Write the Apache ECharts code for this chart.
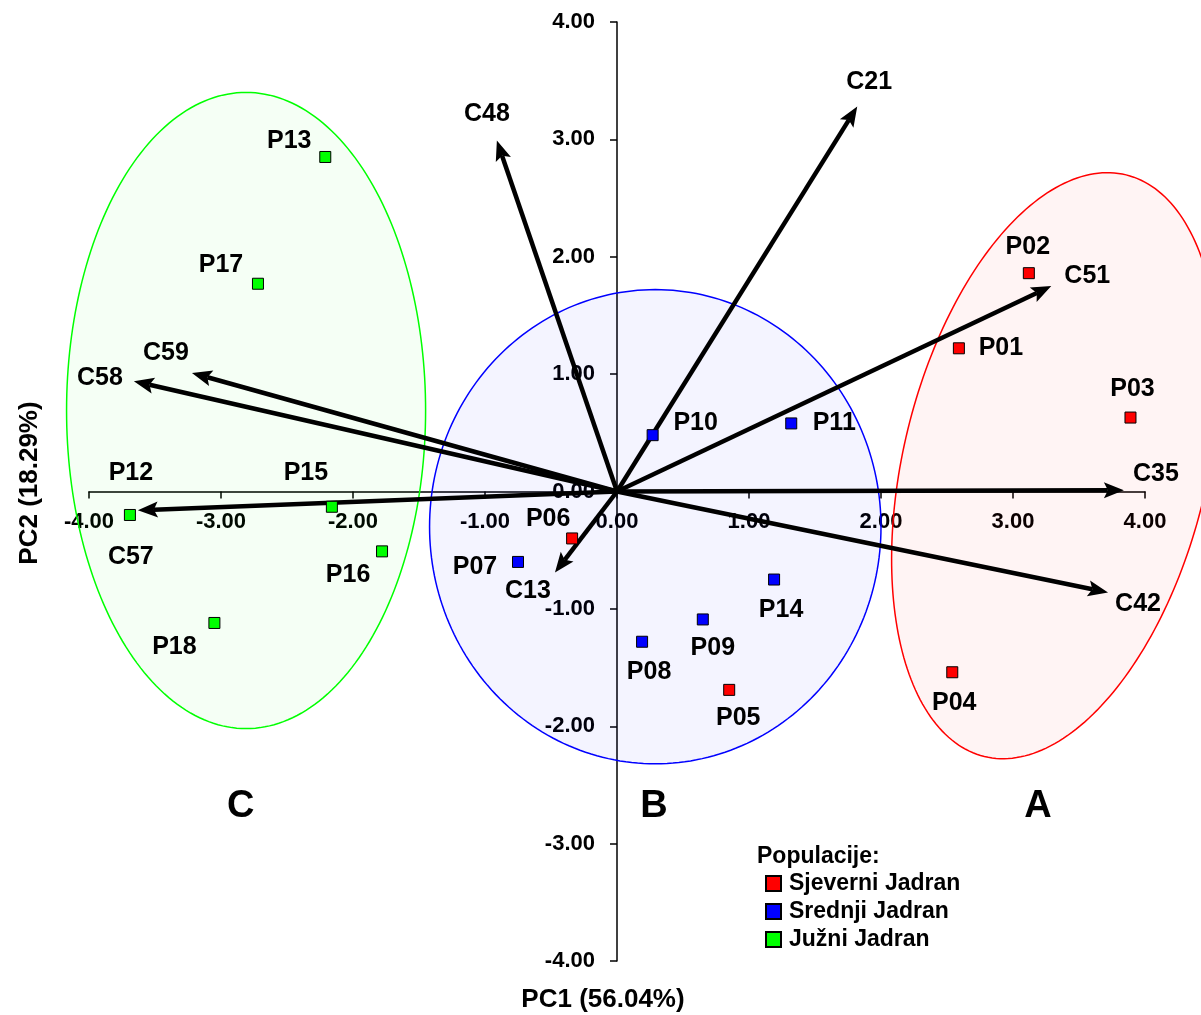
<!DOCTYPE html>
<html>
<head>
<meta charset="utf-8">
<script src="https://cdn.jsdelivr.net/npm/echarts@6/dist/echarts.min.js"></script>
<style>
html,body{margin:0;padding:0;background:#fff;}
#chart{width:1201px;height:1015px;}
</style>
</head>
<body>
<div id="chart"></div>
<script>
// ---------- DATA ----------
const axisTicks = [-4, -3, -2, -1, 0, 1, 2, 3, 4];

// Sample scores (PC1, PC2)
const northNames = ['P01', 'P02', 'P03', 'P04', 'P05', 'P06'];
const northX = [2.59, 3.12, 3.89, 2.54, 0.85, -0.34];
const northY = [1.22, 1.86, 0.63, -1.54, -1.69, -0.40];

const middleNames = ['P07', 'P08', 'P09', 'P10', 'P11', 'P14'];
const middleX = [-0.75, 0.19, 0.65, 0.27, 1.32, 1.19];
const middleY = [-0.60, -1.28, -1.09, 0.48, 0.58, -0.75];

const southNames = ['P12', 'P13', 'P15', 'P16', 'P17', 'P18'];
const southX = [-3.69, -2.21, -2.16, -1.78, -2.72, -3.05];
const southY = [-0.20, 2.85, -0.13, -0.51, 1.77, -1.12];

// Variable loadings (arrow tips)
const loadNames = ['C21', 'C48', 'C51', 'C35', 'C42', 'C13', 'C58', 'C59', 'C57'];
const loadX = [1.82, -0.91, 3.29, 3.84, 3.72, -0.47, -3.66, -3.22, -3.63];
const loadY = [3.28, 2.99, 1.75, 0.01, -0.86, -0.69, 0.94, 1.01, -0.16];

// Group region labels
const regionNames = ['C', 'B', 'A'];
const regionX = [-2.85, 0.28, 3.19];
const regionY = [-2.68, -2.68, -2.68];

const seriesNames = ['Sjeverni Jadran', 'Srednji Jadran', 'Južni Jadran'];
const legendTitle = 'Populacije:';
const xTitle = 'PC1 (56.04%)';
const yTitle = 'PC2 (18.29%)';

// ---------- STYLE / LAYOUT ----------
const FONT = '"Liberation Sans", Arial, sans-serif';
const colors = ['#ff0000', '#0000ff', '#00ff00'];
const fills = ['rgba(255,0,0,0.045)', 'rgba(0,0,255,0.045)', 'rgba(0,255,0,0.04)'];

const W = 1201, H = 1015;
const G = {left: 89, right: 56, top: 22, bottom: 54};
const gridW = W - G.left - G.right, gridH = H - G.top - G.bottom;

// ellipse geometry: [cx, cy, rx(x units), ry(y units), rotation deg]
const regionShapes = [
  {geom: [3.32, 0.22, 1.15, 2.55, 13.7], color: 0},
  {geom: [0.29, -0.30, 1.71, 2.02, 0], color: 1},
  {geom: [-2.81, 0.69, 1.36, 2.71, 0], color: 2}
];

// label offsets in pixels relative to mark centre
const labelOffset = {
  P01: [42, 0], P02: [-1, -26], P03: [2, -28], P04: [2, 31], P05: [9, 28], P06: [-24, -19],
  P07: [-43, 5], P08: [7, 30], P09: [10, 29], P10: [43, -12], P11: [43, 0], P14: [7, 31],
  P12: [1, -42], P13: [-36, -16], P15: [-26, -34], P16: [-34, 24], P17: [-37, -19], P18: [-40, 24],
  C21: [12, -24], C48: [-10, -26], C51: [36, -10], C35: [32, -16], C42: [30, 12],
  C13: [-27, 19], C58: [-34, -3], C59: [-26, -20], C57: [-7, 47]
};

function pointData(names, xs, ys) {
  return names.map((n, i) => ({
    name: n,
    value: [xs[i], ys[i]],
    label: {offset: labelOffset[n] || [0, 0]}
  }));
}

const labelStyle = {
  show: true,
  position: 'inside',
  formatter: p => p.name,
  fontFamily: FONT,
  fontWeight: 'bold',
  fontSize: 25,
  color: '#000'
};

function scatterSeries(idx, names, xs, ys) {
  return {
    name: seriesNames[idx],
    type: 'scatter',
    symbol: 'rect',
    symbolSize: 11,
    z: 10,
    itemStyle: {color: colors[idx], borderColor: '#000', borderWidth: 1, opacity: 1},
    label: labelStyle,
    emphasis: {disabled: true},
    data: pointData(names, xs, ys)
  };
}

const axisCommon = {
  type: 'value',
  min: axisTicks[0], max: axisTicks[axisTicks.length - 1], interval: 1,
  axisLine: {onZero: false, lineStyle: {color: '#000', width: 1.5}},
  axisTick: {show: true, length: 7, lineStyle: {color: '#000', width: 1.5}},
  splitLine: {show: false}
};

const chart = echarts.init(document.getElementById('chart'), null, {renderer: 'canvas'});

const option = {
  backgroundColor: '#fff',
  animation: false,
  grid: {left: G.left, right: G.right, top: G.top, bottom: G.bottom, containLabel: false},
  xAxis: Object.assign({}, axisCommon, {
    position: 'bottom',
    offset: -gridH / 2,
    axisLabel: {
      margin: 19, fontFamily: FONT, fontWeight: 'bold', fontSize: 22, color: '#000',
      formatter: v => v.toFixed(2), showMinLabel: true, showMaxLabel: true
    }
  }),
  yAxis: Object.assign({}, axisCommon, {
    position: 'left',
    offset: -gridW / 2,
    axisLabel: {
      margin: 22, fontFamily: FONT, fontWeight: 'bold', fontSize: 22, color: '#000',
      formatter: v => v.toFixed(2), showMinLabel: true, showMaxLabel: true
    }
  }),
  legend: {
    data: seriesNames,
    orient: 'vertical',
    left: 765, top: 872,
    padding: 0,
    icon: 'rect',
    itemWidth: 15, itemHeight: 15, itemGap: 5,
    selectedMode: false,
    textStyle: {fontFamily: FONT, fontWeight: 'bold', fontSize: 23, color: '#000', padding: [0, 0, 0, 3]}
  },
  graphic: [
    {type: 'text', x: 757, y: 857, style: {text: legendTitle, font: 'bold 23px ' + FONT, fill: '#000', align: 'left', verticalAlign: 'middle'}},
    {type: 'text', x: 603, y: 1000, style: {text: xTitle, font: 'bold 26px ' + FONT, fill: '#000', align: 'center', verticalAlign: 'middle'}},
    {type: 'text', x: 30, y: 483, rotation: Math.PI / 2, style: {text: yTitle, font: 'bold 26px ' + FONT, fill: '#000', align: 'center', verticalAlign: 'middle'}}
  ],
  series: [
    {
      type: 'custom',
      name: 'regions',
      clip: false,
      z: 1,
      silent: true,
      data: regionShapes.map(r => r.geom),
      renderItem: function (params, api) {
        const s = regionShapes[params.dataIndex];
        const c = api.coord([api.value(0), api.value(1)]);
        const sz = api.size([1, 1]);
        const rx = api.value(2) * sz[0], ry = api.value(3) * sz[1];
        const rot = api.value(4) * Math.PI / 180;
        const pts = [];
        for (let k = 0; k < 240; k++) {
          const t = 2 * Math.PI * k / 240;
          const x = rx * Math.cos(t), y = ry * Math.sin(t);
          pts.push([c[0] + x * Math.cos(rot) - y * Math.sin(rot), c[1] + x * Math.sin(rot) + y * Math.cos(rot)]);
        }
        return {
          type: 'polygon',
          shape: {points: pts},
          style: {fill: fills[s.color], stroke: colors[s.color], lineWidth: 1.5}
        };
      }
    },
    {
      type: 'custom',
      name: 'loadings',
      clip: false,
      z: 5,
      silent: true,
      data: loadX.map((x, i) => [x, loadY[i]]),
      renderItem: function (params, api) {
        const name = loadNames[params.dataIndex];
        const off = labelOffset[name] || [0, 0];
        const o = api.coord([0, 0]);
        const p = api.coord([api.value(0), api.value(1)]);
        const dx = p[0] - o[0], dy = p[1] - o[1];
        const len = Math.hypot(dx, dy);
        const ux = dx / len, uy = dy / len, nx = -uy, ny = ux;
        const L = 20, HW = 8, N = 4;
        const bx = p[0] - ux * L, by = p[1] - uy * L;
        const mx = p[0] - ux * (L - N), my = p[1] - uy * (L - N);
        return {
          type: 'group',
          children: [
            {type: 'line', shape: {x1: o[0], y1: o[1], x2: mx, y2: my}, style: {stroke: '#000', lineWidth: 4.5}},
            {type: 'polygon', shape: {points: [[p[0], p[1]], [bx + nx * HW, by + ny * HW], [mx, my], [bx - nx * HW, by - ny * HW]]}, style: {fill: '#000'}},
            {type: 'text', x: p[0] + off[0], y: p[1] + off[1], style: {text: name, font: 'bold 25px ' + FONT, fill: '#000', align: 'center', verticalAlign: 'middle'}}
          ]
        };
      }
    },
    scatterSeries(0, northNames, northX, northY),
    scatterSeries(1, middleNames, middleX, middleY),
    scatterSeries(2, southNames, southX, southY),
    {
      type: 'custom',
      name: 'regionLabels',
      clip: false,
      z: 6,
      silent: true,
      data: regionX.map((x, i) => [x, regionY[i]]),
      renderItem: function (params, api) {
        const p = api.coord([api.value(0), api.value(1)]);
        return {
          type: 'text', x: p[0], y: p[1],
          style: {text: regionNames[params.dataIndex], font: 'bold 38px ' + FONT, fill: '#000', align: 'center', verticalAlign: 'middle'}
        };
      }
    }
  ]
};

chart.setOption(option);
</script>
</body>
</html>
